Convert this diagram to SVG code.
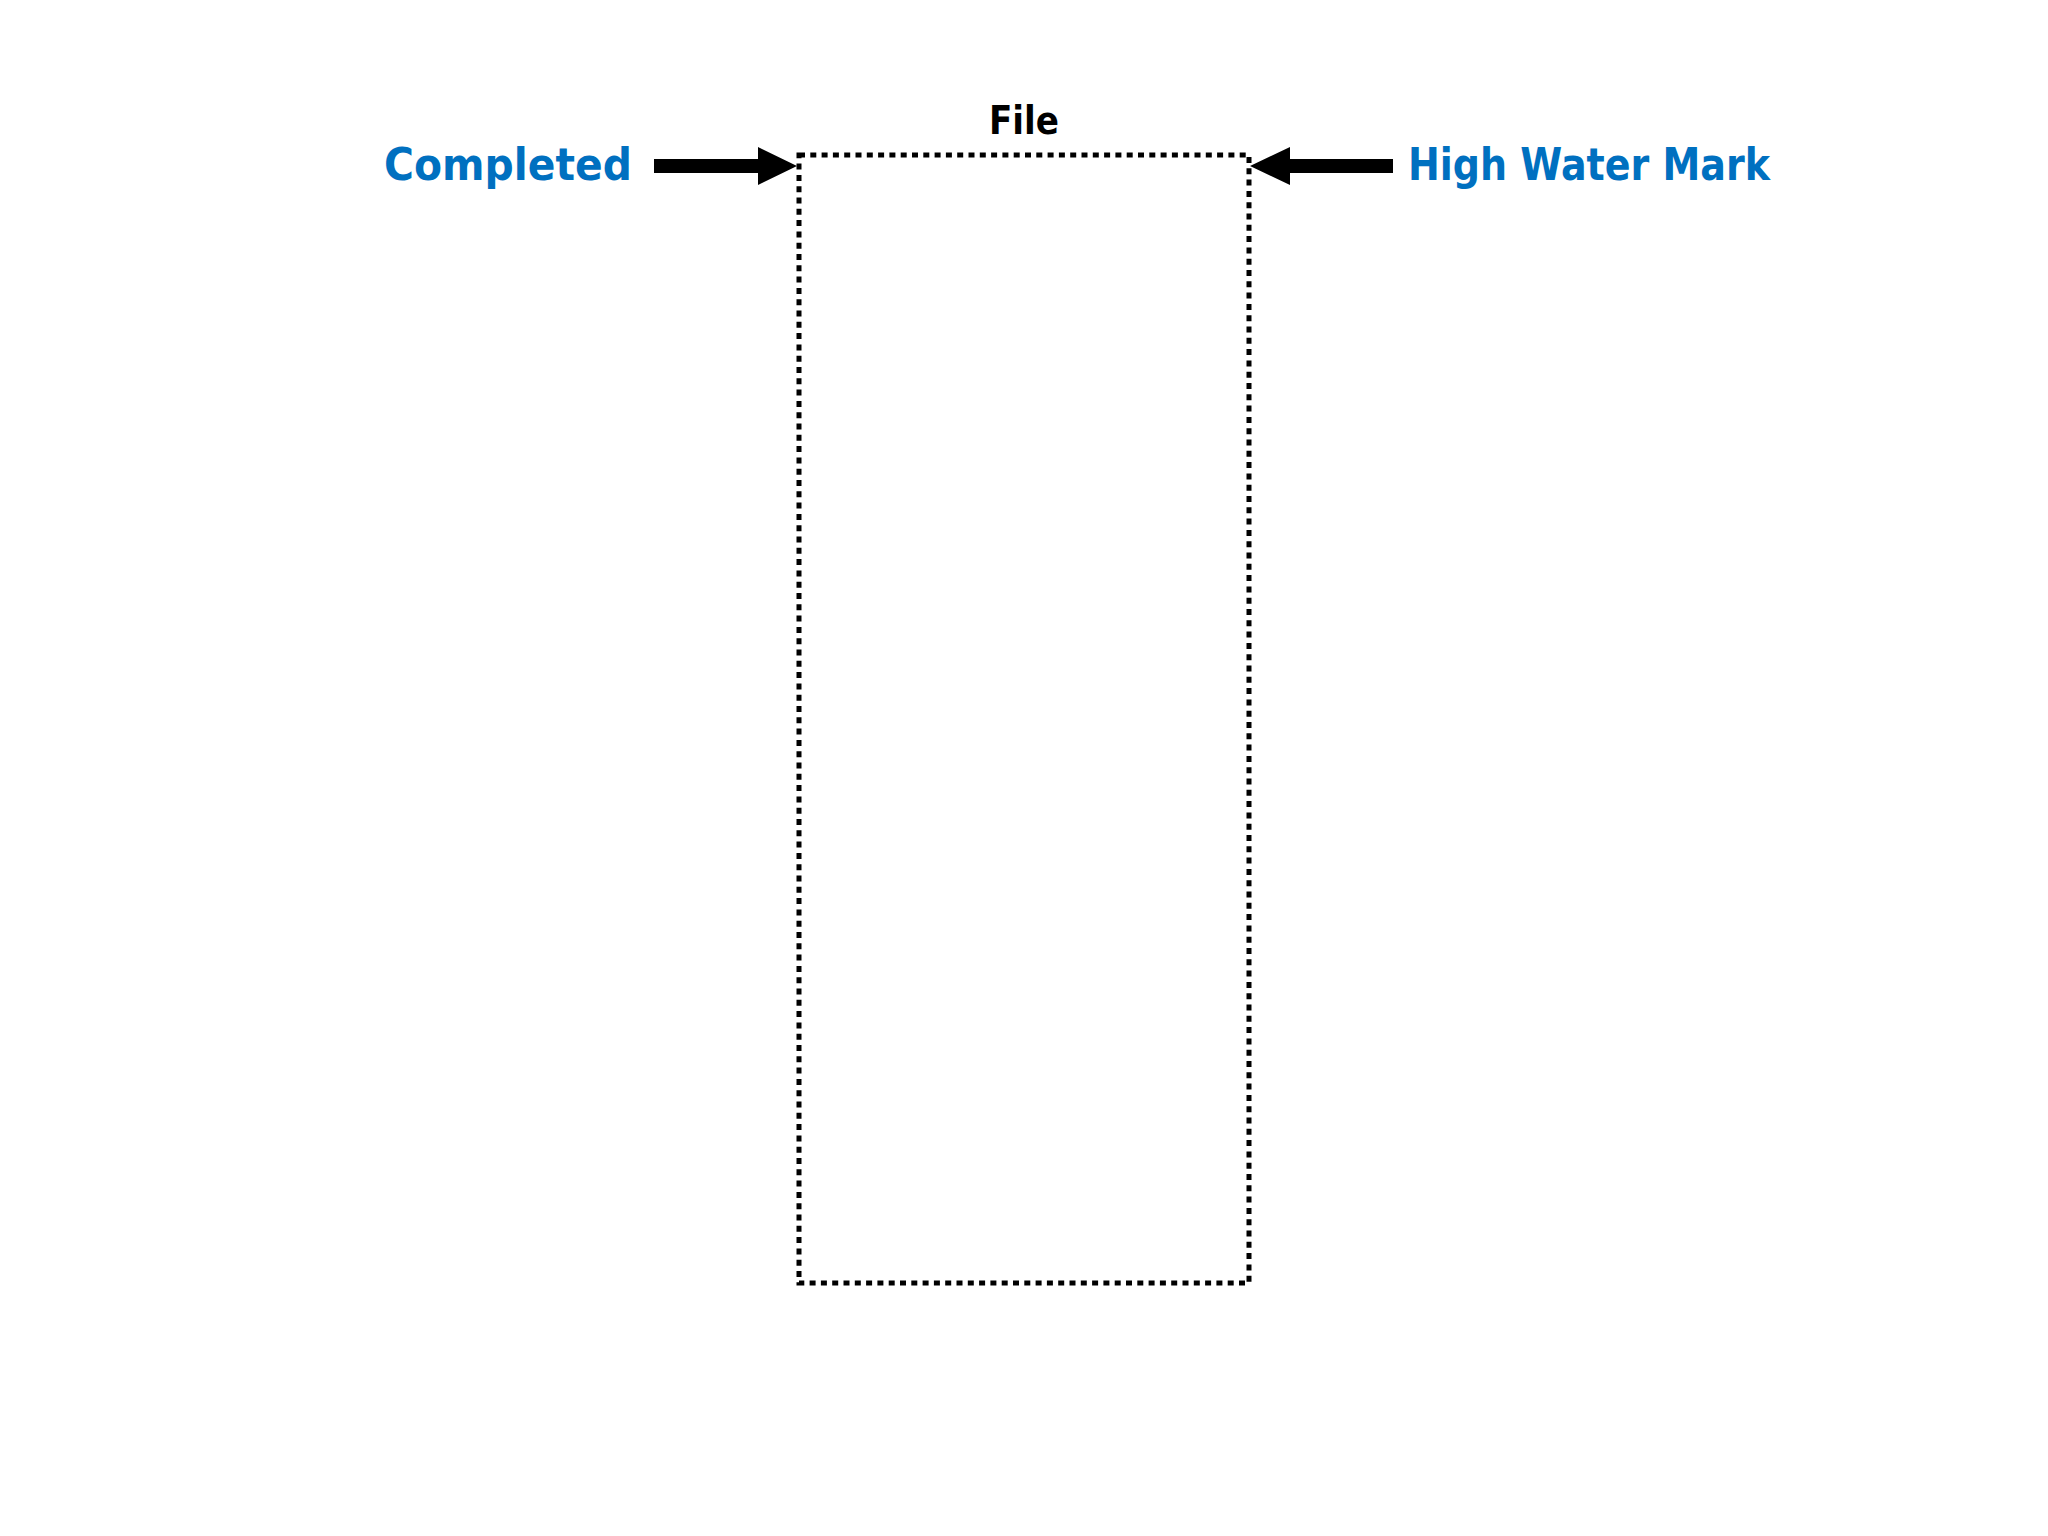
<svg xmlns="http://www.w3.org/2000/svg" width="2048" height="1536" viewBox="0 0 2048 1536">
  <style>
    .lbl { font-family: "DejaVu Sans", "Liberation Sans", sans-serif; font-weight: bold; fill: #0070C0; font-size: 45px; }
    .title { font-family: "DejaVu Sans", "Liberation Sans", sans-serif; font-weight: bold; fill: #000; font-size: 39px; }
    .box { fill: none; stroke: #000; stroke-width: 5; stroke-dasharray: 6 5.3; }
    .arrow { fill: #000; }
  </style>
  <rect width="2048" height="1536" fill="#FFFFFF"/>
  <g id="file">
    <rect class="box" x="799" y="155" width="450" height="1128"/>
    <text class="title" x="1024" y="134" text-anchor="middle" textLength="70" lengthAdjust="spacingAndGlyphs">File</text>
  </g>
  <g id="completed">
    <text class="lbl" x="384" y="180" textLength="248" lengthAdjust="spacingAndGlyphs">Completed</text>
  </g>
  <g id="high-water-mark">
    <text class="lbl" x="1408" y="180" textLength="362" lengthAdjust="spacingAndGlyphs">High Water Mark</text>
  </g>
  <g id="connectors">
    <path class="arrow" d="M654,159 H758 V147 L797,166 L758,185 V173 H654 Z"/>
    <path class="arrow" d="M1393,159 H1290 V147 L1250,166 L1290,185 V173 H1393 Z"/>
  </g>
</svg>
